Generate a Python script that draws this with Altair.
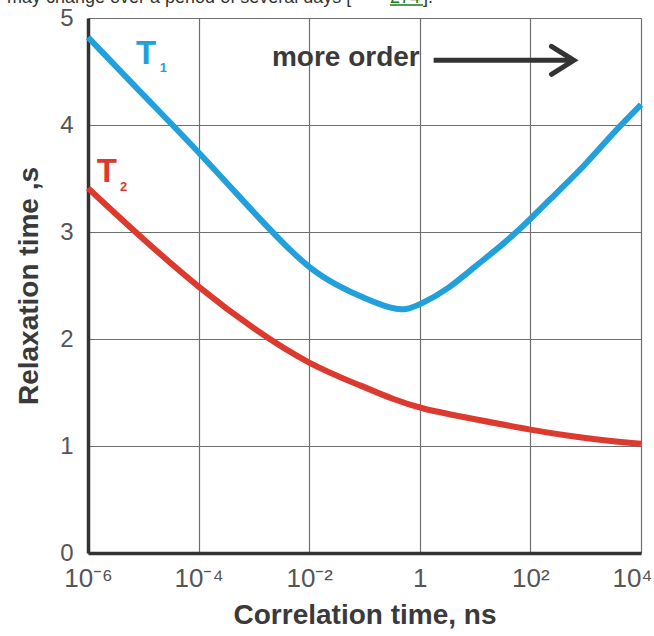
import altair as alt
import pandas as pd

# ---- data ----
t1_x = [1e-6, 1e-5, 1e-4, 1e-3, 0.00316, 1e-2, 0.0316, 0.1, 0.316, 0.56, 1, 3.16, 10, 31.6, 100, 316, 1000, 3162, 1e4]
t1_y = [4.82, 4.28, 3.75, 3.18, 2.91, 2.66, 2.50, 2.38, 2.28, 2.27, 2.32, 2.46, 2.68, 2.88, 3.12, 3.38, 3.63, 3.93, 4.19]

t2_x = [1e-6, 1e-5, 1e-4, 1e-3, 1e-2, 1e-1, 0.316, 1, 10, 100, 1000, 1e4]
t2_y = [3.41, 2.93, 2.48, 2.09, 1.76, 1.55, 1.44, 1.35, 1.25, 1.15, 1.07, 1.02]

x_ticks = [1e-6, 1e-4, 1e-2, 1, 1e2, 1e4]
x_tick_labels = ["10⁻⁶", "10⁻⁴", "10⁻²", "1", "10²", "10⁴"]
y_ticks = [0, 1, 2, 3, 4, 5]

BLUE = "#21a0dc"
RED = "#dc3a2e"
FONT = "Liberation Sans"

curves = pd.DataFrame(
    {"x": t1_x + t2_x, "y": t1_y + t2_y,
     "s": ["T1"] * len(t1_x) + ["T2"] * len(t2_x)}
)

label_expr = "[" + ",".join("'%s'" % l for l in x_tick_labels) + "][indexof([" + \
    ",".join(repr(v) for v in x_ticks) + "], datum.value)]"

xs = alt.Scale(type="log", domain=[1e-6, 1e4], nice=False)
ys = alt.Scale(domain=[0, 5], nice=False)

x_axis = alt.Axis(values=x_ticks, labelExpr=label_expr, title="Correlation time, ns",
                  labelFont=FONT, labelFontSize=26, labelColor="#555", labelPadding=12,
                  labelOffset={"condition": {"test": "datum.value == 10000", "value": -9}, "value": 0},
                  ticks=False, domainColor="#333", domainWidth=3.5,
                  grid=True, gridColor="#6f6f6f", gridWidth=1.2,
                  titleFont=FONT, titleFontSize=28, titleFontWeight="bold",
                  titleColor="#3a3a3a", titlePadding=10, labelFlush=False)
y_axis = alt.Axis(values=y_ticks, format="d", title="Relaxation time ,s",
                  labelFont=FONT, labelFontSize=24, labelColor="#555", labelPadding=15,
                  ticks=False, domainColor="#333", domainWidth=3.5,
                  grid=True, gridColor="#6f6f6f", gridWidth=1.2,
                  titleFont=FONT, titleFontSize=28, titleFontWeight="bold",
                  titleColor="#3a3a3a", titlePadding=16, labelFlush=False)

lines = alt.Chart(curves).mark_line(strokeWidth=6, interpolate="basis").encode(
    x=alt.X("x:Q", scale=xs, axis=x_axis),
    y=alt.Y("y:Q", scale=ys, axis=y_axis),
    color=alt.Color("s:N", scale=alt.Scale(domain=["T1", "T2"], range=[BLUE, RED]), legend=None),
)

# series labels
lab = pd.DataFrame({
    "x": [1.12e-5, 2.2e-6], "y": [4.66, 3.56], "t": ["T", "T"], "s": ["T1", "T2"],
})
sub = pd.DataFrame({
    "x": [2.3e-5, 4.4e-6], "y": [4.53, 3.42], "t": ["1", "2"], "s": ["T1", "T2"],
})
col = alt.Color("s:N", scale=alt.Scale(domain=["T1", "T2"], range=[BLUE, RED]), legend=None)
lab_big = alt.Chart(lab).mark_text(font=FONT, fontSize=33, fontWeight="bold").encode(
    x=alt.X("x:Q", scale=xs), y=alt.Y("y:Q", scale=ys), text="t:N", color=col)
lab_sub = alt.Chart(sub).mark_text(font=FONT, fontSize=13, fontWeight="bold").encode(
    x=alt.X("x:Q", scale=xs), y=alt.Y("y:Q", scale=ys), text="t:N", color=col)

# "more order" annotation with arrow
ann = pd.DataFrame({"x": [0.046], "y": [4.63], "t": ["more order"]})
ann_text = alt.Chart(ann).mark_text(font=FONT, fontSize=28, fontWeight="bold",
                                    color="#3a3a3a").encode(
    x=alt.X("x:Q", scale=xs), y=alt.Y("y:Q", scale=ys), text="t:N")
arrow_df = pd.DataFrame({"x": [1.78], "x2": [560.0], "y": [4.605]})
arrow_shaft = alt.Chart(arrow_df).mark_rule(strokeWidth=5, color="#333").encode(
    x=alt.X("x:Q", scale=xs), x2="x2:Q", y=alt.Y("y:Q", scale=ys))
head_df = pd.DataFrame({"x": [611.0], "y": [4.605]})
arrow_head = alt.Chart(head_df).mark_point(
    shape="M-1.6,-1L0,0L-1.6,1", filled=False, size=784, strokeWidth=5,
    color="#333", opacity=1, strokeCap="round", strokeJoin="miter").encode(
    x=alt.X("x:Q", scale=xs), y=alt.Y("y:Q", scale=ys))

# cropped text line from the page above the figure
head1 = alt.Chart(pd.DataFrame({"t": ["may change over a period of several days ["]})).mark_text(
    font=FONT, fontSize=18, color="#333", align="left", baseline="alphabetic").encode(
    x=alt.value(-81), y=alt.value(-15), text="t:N")
head2 = alt.Chart(pd.DataFrame({"t": ["274"]})).mark_text(
    font=FONT, fontSize=18, color="#1a7a1a", align="left", baseline="alphabetic").encode(
    x=alt.value(302), y=alt.value(-15), text="t:N")
head_ul = alt.Chart(pd.DataFrame({"t": ["274"]})).mark_rule(color="#1a7a1a", strokeWidth=1.5).encode(
    x=alt.value(302), x2=alt.value(335), y=alt.value(-13))
head3 = alt.Chart(pd.DataFrame({"t": ["]."]})).mark_text(
    font=FONT, fontSize=18, color="#333", align="left", baseline="alphabetic").encode(
    x=alt.value(335), y=alt.value(-15), text="t:N")

chart = alt.layer(lines, lab_big, lab_sub, ann_text, arrow_shaft, arrow_head,
                  head1, head2, head_ul, head3).properties(
    width=553, height=535,
    autosize=alt.AutoSizeParams(type="none"),
    padding={"left": 88, "top": 18, "right": 13, "bottom": 83},
).configure_view(stroke="#888", strokeWidth=1.5).configure(background="white")

chart.save("out.html", embed_options={"renderer": "svg", "actions": False})
